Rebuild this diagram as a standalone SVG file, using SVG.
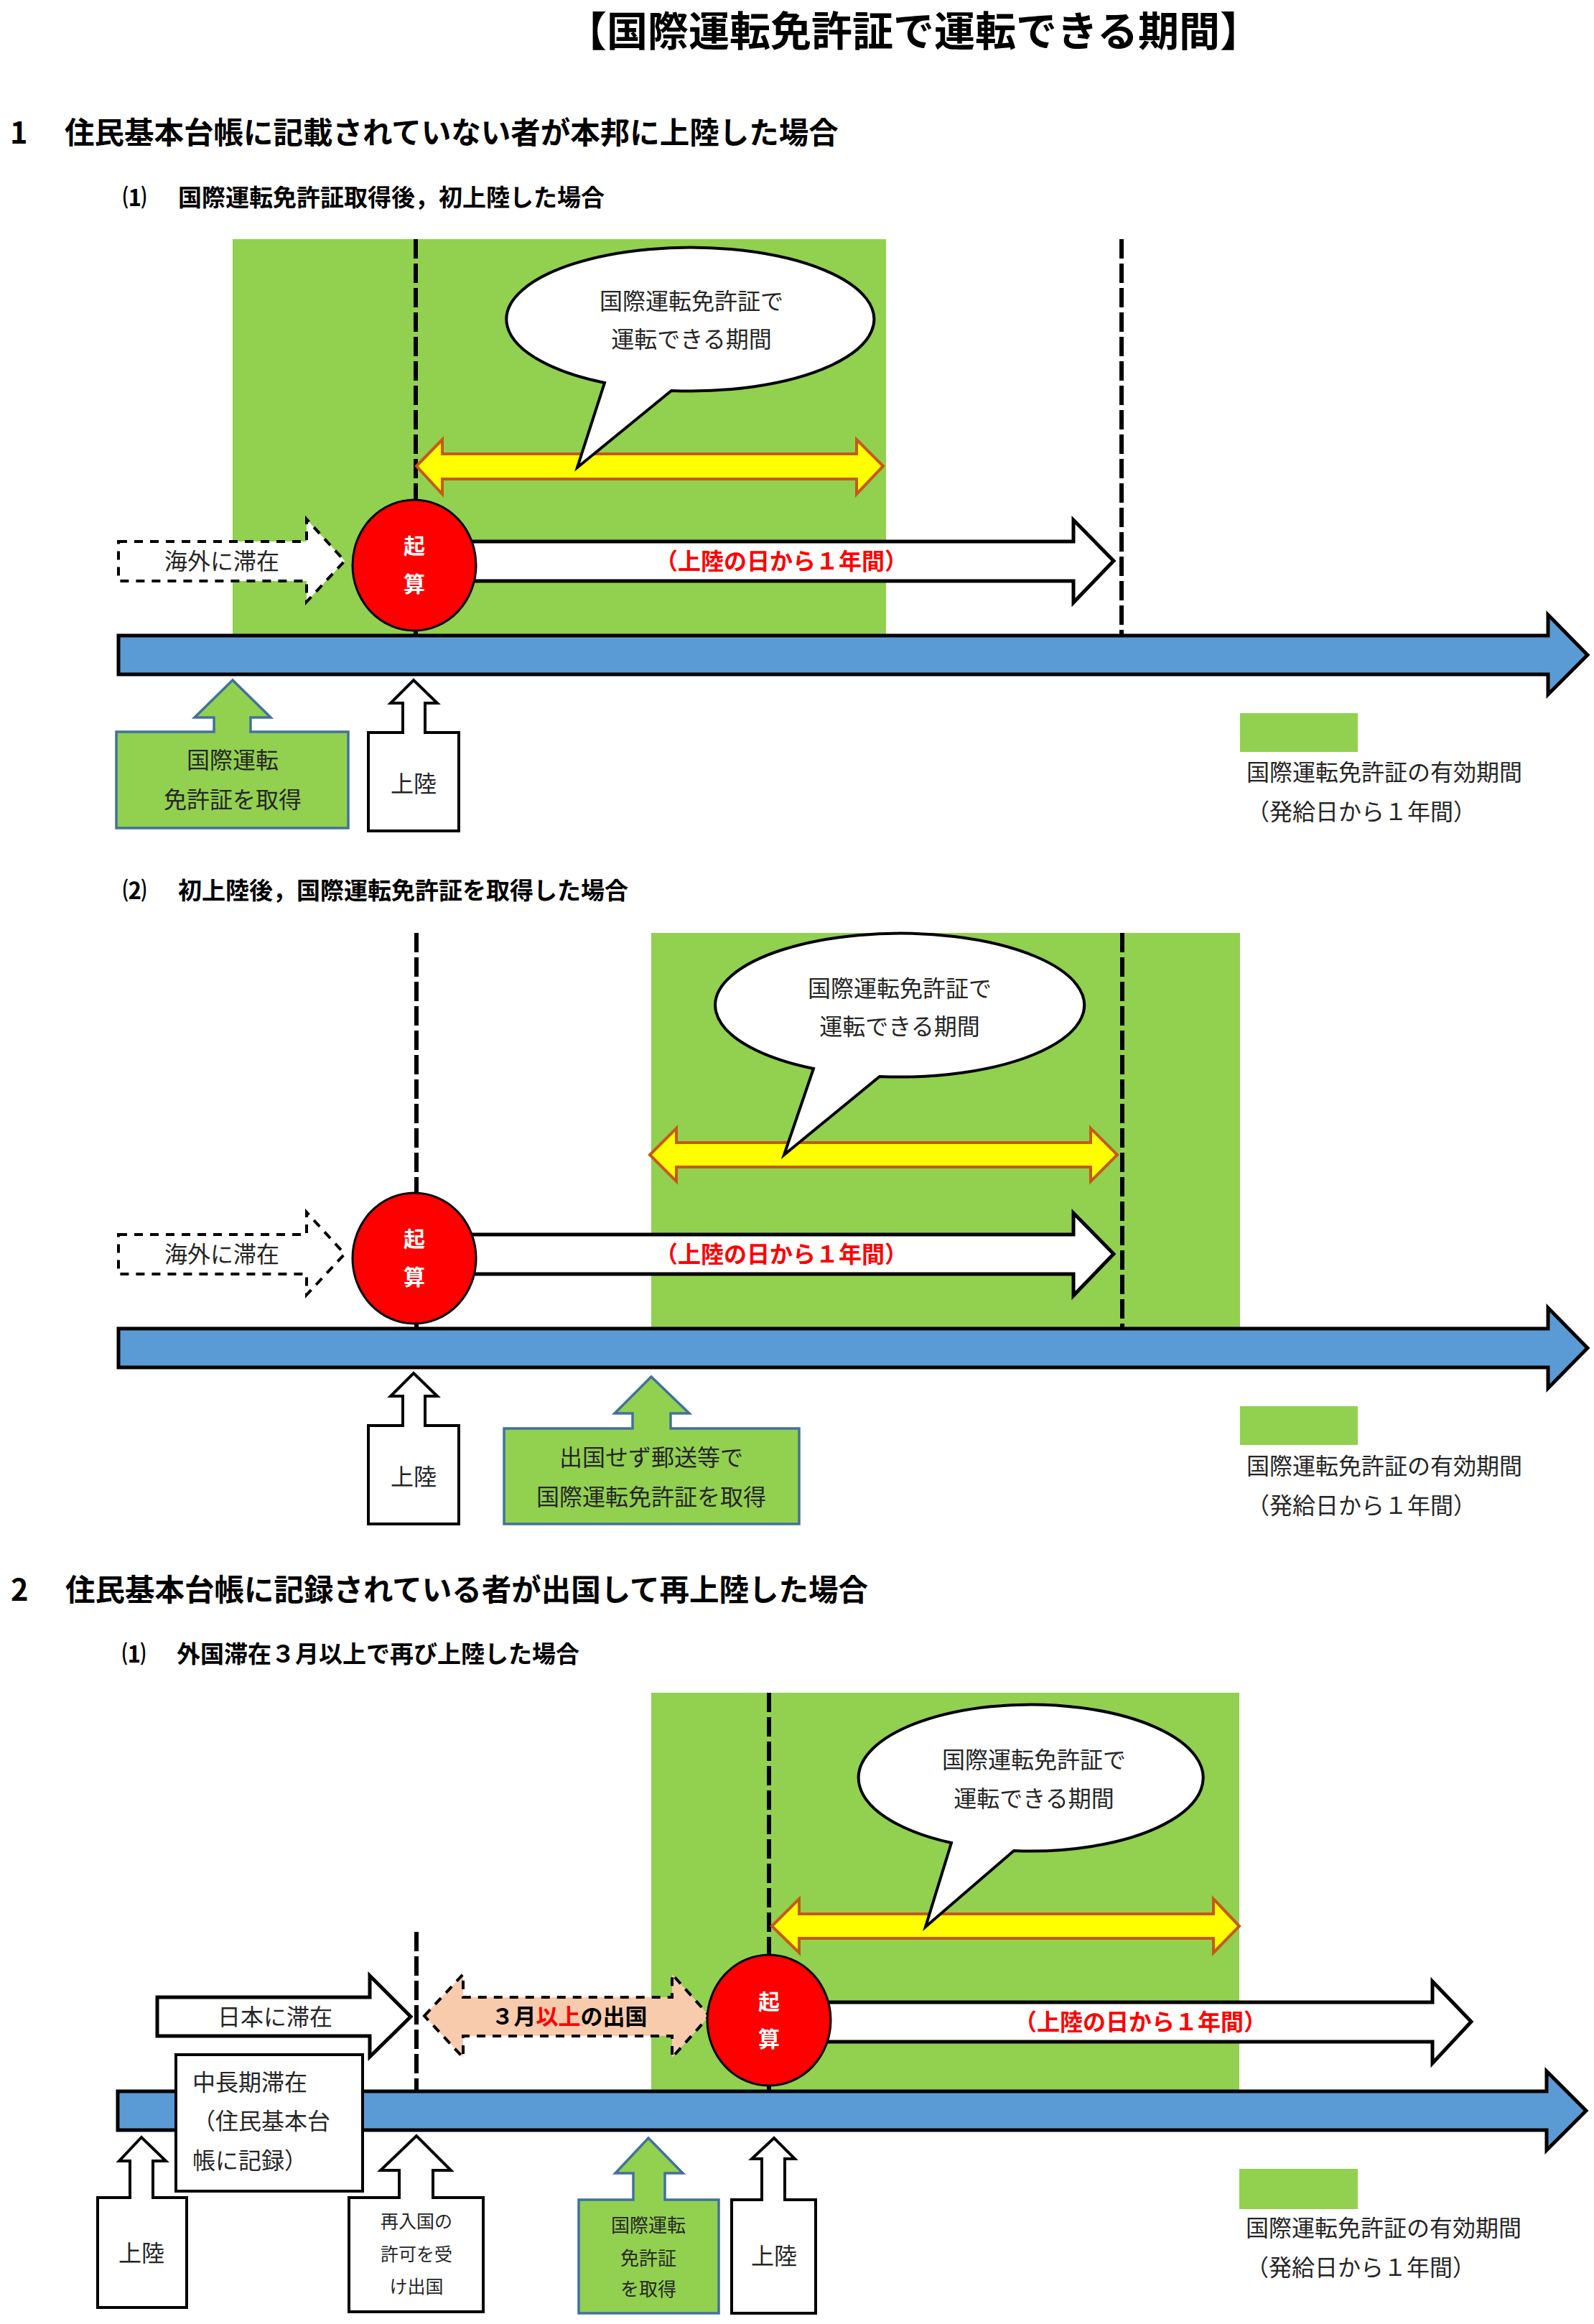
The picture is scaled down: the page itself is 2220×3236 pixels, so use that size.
<svg xmlns="http://www.w3.org/2000/svg" width="2220" height="3236" viewBox="0 0 2220 3236">
<style>
text{font-family:"Noto Sans CJK JP","Noto Sans",sans-serif;fill:#262626}
.h0{font-size:57px;font-weight:bold;fill:#000}
.h1{font-size:41.5px;font-weight:bold;fill:#000}
.h2{font-size:33px;font-weight:bold;fill:#000}
.t{font-size:32px}
.tm{text-anchor:middle}
.s25{font-size:25px}
.s26{font-size:26px}
.red{font-size:32px;font-weight:bold;fill:#FF0000;text-anchor:middle}
.ki{font-size:30px;font-weight:bold;fill:#fff;text-anchor:middle}
.green{fill:#92D050}
.vdash{stroke:#000;stroke-width:6;stroke-dasharray:27 7;fill:none}
.bar{fill:#5B9BD5;stroke:#000;stroke-width:5;stroke-linejoin:miter}
.warr{fill:#fff;stroke:#000;stroke-width:5}
.darr{fill:#fff;stroke:#000;stroke-width:4;stroke-dasharray:12 10}
.peach{fill:#F8CBAD;stroke:#000;stroke-width:4;stroke-dasharray:12 10}
.yel{fill:#FFFF00;stroke:#C55A11;stroke-width:4}
.bub{fill:#fff;stroke:#000;stroke-width:4;stroke-linejoin:miter}
.circ{fill:#FF0000;stroke:#000;stroke-width:3}
.gbox{fill:#92D050;stroke:#41719C;stroke-width:3.5}
.wbox{fill:#fff;stroke:#000;stroke-width:4}
</style>

<g id="title">
<text class="h0 tm" x="1272" y="64">【国際運転免許証で運転できる期間】</text>
<text class="h1" x="14" y="200">1<tspan x="90">住民基本台帳に記載されていない者が本邦に上陸した場合</tspan></text>
<text class="h2" x="171" y="287">⑴<tspan x="248">国際運転免許証取得後，初上陸した場合</tspan></text>
<text class="h2" x="171" y="1252">⑵<tspan x="248">初上陸後，国際運転免許証を取得した場合</tspan></text>
<text class="h1" x="15" y="2229">2<tspan x="91">住民基本台帳に記録されている者が出国して再上陸した場合</tspan></text>
<text class="h2" x="170" y="2315">⑴<tspan x="246">外国滞在３月以上で再び上陸した場合</tspan></text>
</g>

<!-- Section 1(1) -->
<g id="s11">
<rect id="s11-valid" class="green" x="324" y="333" width="910" height="551"/>
<g id="s11-lines">
<line class="vdash" x1="579" y1="333" x2="579" y2="885"/>
<line class="vdash" x1="1562" y1="333" x2="1562" y2="885"/>
</g>
<g id="s11-yellow"><path class="yel" d="M580 649 L616 612 L616 632 L1193 632 L1193 612 L1230 649 L1193 688 L1193 667 L616 667 L616 688 Z"/></g>
<g id="s11-bubble">
<path class="bub" d="M842 533 A256 100 0 1 1 935 544 L804 651 Z"/>
<text class="t tm" x="963" y="431">国際運転免許証で</text>
<text class="t tm" x="963" y="484">運転できる期間</text>
</g>
<g id="s11-abroad">
<path class="darr" d="M165 754 L427 754 L427 723 L480 781 L427 838 L427 809 L165 809 Z"/>
<text class="t tm" x="309" y="793">海外に滞在</text>
</g>
<g id="s11-year">
<path class="warr" d="M620 754 L1495 754 L1495 724 L1551 781 L1495 839 L1495 809 L620 809 Z"/>
<text class="red" x="1088" y="793">（上陸の日から１年間）</text>
</g>
<g id="s11-start">
<ellipse class="circ" cx="577" cy="787" rx="86" ry="91"/>
<text class="ki" x="577" y="771">起</text>
<text class="ki" x="577" y="824">算</text>
</g>
<g id="s11-timeline"><path class="bar" d="M165 885 L2156 885 L2156 856 L2211 912 L2156 967 L2156 939 L165 939 Z"/></g>
<g id="s11-obtain">
<path class="gbox" d="M162 1019 L298 1019 L298 999 L271 999 L324 947 L377 999 L349 999 L349 1019 L485 1019 L485 1153 L162 1153 Z"/>
<text class="t tm" x="324" y="1070">国際運転</text>
<text class="t tm" x="324" y="1125">免許証を取得</text>
</g>
<g id="s11-land">
<path class="wbox" d="M513 1020 L561 1020 L561 979 L544 979 L576 947 L609 979 L592 979 L592 1020 L639 1020 L639 1157 L513 1157 Z"/>
<text class="t tm" x="576" y="1103">上陸</text>
</g>
<g id="s11-legend">
<rect class="green" x="1727" y="993" width="164" height="54"/>
<text class="t" x="1736" y="1087">国際運転免許証の有効期間</text>
<text class="t" x="1736" y="1142">（発給日から１年間）</text>
</g>
</g>

<!-- Section 1(2) -->
<g id="s12">
<rect id="s12-valid" class="green" x="907" y="1299" width="820" height="551"/>
<g id="s12-lines">
<line class="vdash" x1="580" y1="1299" x2="580" y2="1850"/>
<line class="vdash" x1="1563" y1="1299" x2="1563" y2="1850"/>
</g>
<g id="s12-yellow"><path class="yel" d="M905 1608 L942 1571 L942 1591 L1519 1591 L1519 1571 L1556 1608 L1519 1645 L1519 1625 L942 1625 L942 1645 Z"/></g>
<g id="s12-bubble">
<path class="bub" d="M1133 1488 A257 100 0 1 1 1225 1499 L1092 1608 Z"/>
<text class="t tm" x="1253" y="1388">国際運転免許証で</text>
<text class="t tm" x="1253" y="1441">運転できる期間</text>
</g>
<g id="s12-abroad">
<path class="darr" d="M165 1719 L427 1719 L427 1688 L480 1746 L427 1803 L427 1774 L165 1774 Z"/>
<text class="t tm" x="309" y="1758">海外に滞在</text>
</g>
<g id="s12-year">
<path class="warr" d="M620 1719 L1495 1719 L1495 1689 L1551 1746 L1495 1804 L1495 1774 L620 1774 Z"/>
<text class="red" x="1088" y="1758">（上陸の日から１年間）</text>
</g>
<g id="s12-start">
<ellipse class="circ" cx="577" cy="1752" rx="86" ry="91"/>
<text class="ki" x="577" y="1736">起</text>
<text class="ki" x="577" y="1789">算</text>
</g>
<g id="s12-timeline"><path class="bar" d="M165 1850 L2156 1850 L2156 1821 L2211 1877 L2156 1933 L2156 1904 L165 1904 Z"/></g>
<g id="s12-land">
<path class="wbox" d="M513 1985 L561 1985 L561 1944 L544 1944 L576 1912 L609 1944 L592 1944 L592 1985 L639 1985 L639 2122 L513 2122 Z"/>
<text class="t tm" x="576" y="2068">上陸</text>
</g>
<g id="s12-obtain">
<path class="gbox" d="M702 1989 L881 1989 L881 1968 L856 1968 L907 1917 L960 1968 L934 1968 L934 1989 L1113 1989 L1113 2122 L702 2122 Z"/>
<text class="t tm" x="907" y="2041">出国せず郵送等で</text>
<text class="t tm" x="907" y="2096">国際運転免許証を取得</text>
</g>
<g id="s12-legend">
<rect class="green" x="1727" y="1958" width="164" height="54"/>
<text class="t" x="1736" y="2053">国際運転免許証の有効期間</text>
<text class="t" x="1736" y="2108">（発給日から１年間）</text>
</g>
</g>

<!-- Section 2(1) -->
<g id="s21">
<rect id="s21-valid" class="green" x="907" y="2357" width="819" height="555"/>
<g id="s21-lines">
<line class="vdash" x1="580" y1="2690" x2="580" y2="2912"/>
<line class="vdash" x1="1071" y1="2357" x2="1071" y2="2912"/>
</g>
<g id="s21-yellow"><path class="yel" d="M1075 2682 L1113 2644 L1113 2665 L1690 2665 L1690 2644 L1726 2682 L1690 2719 L1690 2699 L1113 2699 L1113 2719 Z"/></g>
<g id="s21-bubble">
<path class="bub" d="M1325 2566 A240 102 0 1 1 1412 2577 L1289 2683 Z"/>
<text class="t tm" x="1440" y="2462">国際運転免許証で</text>
<text class="t tm" x="1440" y="2516">運転できる期間</text>
</g>
<g id="s21-japan">
<path class="warr" d="M219 2781 L515 2781 L515 2751 L572 2808 L515 2864 L515 2835 L219 2835 Z"/>
<text class="t tm" x="383" y="2820">日本に滞在</text>
</g>
<g id="s21-out">
<path class="peach" d="M591 2807 L645 2749 L645 2781 L936 2781 L936 2749 L988 2807 L936 2865 L936 2835 L645 2835 L645 2865 Z"/>
<text class="h2 tm" x="793" y="2819" style="font-size:31px">３月<tspan fill="#FF0000">以上</tspan>の出国</text>
</g>
<g id="s21-year">
<path class="warr" d="M1110 2788 L1995 2788 L1995 2759 L2049 2815 L1995 2873 L1995 2843 L1110 2843 Z"/>
<text class="red" x="1588" y="2827">（上陸の日から１年間）</text>
</g>
<g id="s21-start">
<ellipse class="circ" cx="1071" cy="2813" rx="86" ry="91"/>
<text class="ki" x="1071" y="2798">起</text>
<text class="ki" x="1071" y="2850">算</text>
</g>
<g id="s21-timeline"><path class="bar" d="M164 2912 L2154 2912 L2154 2884 L2209 2939 L2154 2994 L2154 2966 L164 2966 Z"/></g>
<g id="s21-stay">
<rect class="wbox" x="245" y="2861" width="260" height="190"/>
<text class="t" x="268" y="2911">中長期滞在</text>
<text class="t" x="268" y="2965">（住民基本台</text>
<text class="t" x="268" y="3020">帳に記録）</text>
</g>
<g id="s21-land1">
<path class="wbox" d="M136 3060 L181 3060 L181 3009 L166 3009 L197 2976 L231 3009 L213 3009 L213 3060 L260 3060 L260 3213 L136 3213 Z"/>
<text class="t tm" x="197" y="3149">上陸</text>
</g>
<g id="s21-reentry">
<path class="wbox" d="M486 3060 L556 3060 L556 3022 L530 3022 L580 2974 L628 3022 L603 3022 L603 3060 L673 3060 L673 3219 L486 3219 Z"/>
<text class="t tm s25" x="580" y="3102">再入国の</text>
<text class="t tm s25" x="580" y="3148">許可を受</text>
<text class="t tm s25" x="580" y="3193">け出国</text>
</g>
<g id="s21-obtain">
<path class="gbox" d="M806 3063 L882 3063 L882 3026 L857 3026 L903 2977 L951 3026 L926 3026 L926 3063 L1001 3063 L1001 3221 L806 3221 Z"/>
<text class="t tm s26" x="903" y="3108">国際運転</text>
<text class="t tm s26" x="903" y="3154">免許証</text>
<text class="t tm s26" x="903" y="3197">を取得</text>
</g>
<g id="s21-land2">
<path class="wbox" d="M1019 3063 L1061 3063 L1061 3006 L1047 3006 L1078 2977 L1107 3006 L1093 3006 L1093 3063 L1136 3063 L1136 3221 L1019 3221 Z"/>
<text class="t tm" x="1078" y="3153">上陸</text>
</g>
<g id="s21-legend">
<rect class="green" x="1726" y="3020" width="165" height="56"/>
<text class="t" x="1735" y="3114">国際運転免許証の有効期間</text>
<text class="t" x="1735" y="3169">（発給日から１年間）</text>
</g>
</g>
<g id="connectors"></g>
</svg>
